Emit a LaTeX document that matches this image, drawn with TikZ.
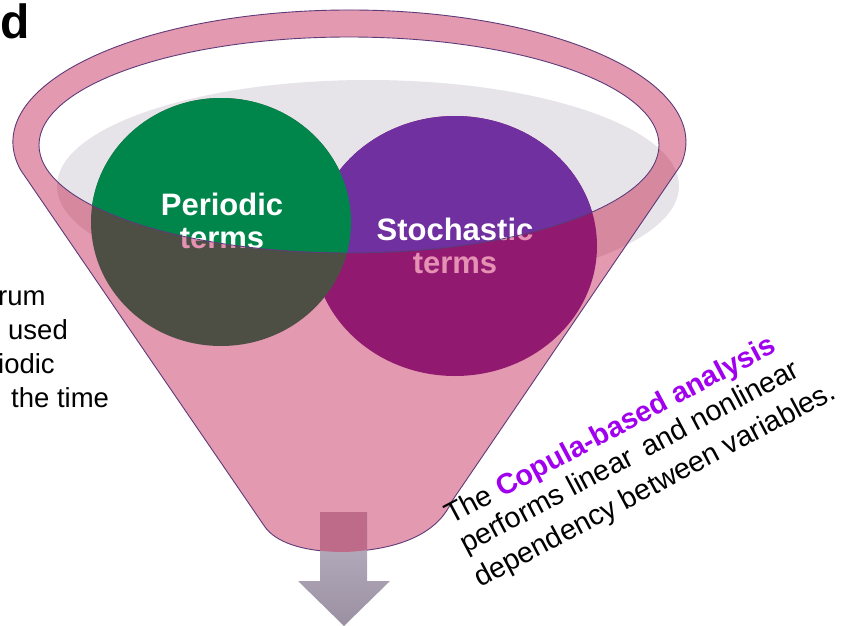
\documentclass[tikz,border=0pt]{standalone}
\usepackage{fontspec}
\setmainfont{Liberation Sans}
\definecolor{funpink}{HTML}{E399B0}
\definecolor{fundark}{HTML}{D6889F}
\definecolor{funline}{HTML}{5E3A78}
\definecolor{lightgray}{HTML}{E6E3E9}
\definecolor{pgreen}{HTML}{00864A}
\definecolor{pgreendark}{HTML}{4D4F45}
\definecolor{ppurple}{HTML}{7030A0}
\definecolor{ppurpledark}{HTML}{911A70}
\definecolor{txtpink}{HTML}{E591B4}
\definecolor{copula}{HTML}{A000EE}
\definecolor{arrowtop}{HTML}{BCB4C4}
\definecolor{arrowbot}{HTML}{9A90A2}
\definecolor{arrowover}{HTML}{BE6A89}
\tikzset{
  bigterm/.style={anchor=base, inner sep=0pt, font=\fontsize{31}{33}\selectfont\bfseries},
  sidetext/.style={anchor=base west, inner sep=0pt, font=\fontsize{27.5}{30}\selectfont},
  copline/.style={anchor=base west, inner sep=0pt, rotate=28, font=\fontsize{28.8}{32}\selectfont},
  outline/.style={draw=funline, line width=0.9pt}
}
\def\funnelpath{(20.7,170.1) arc[start angle=167.7, end angle=370, x radius=336.5, y radius=132] -- (452,501) .. controls (440,528) and (410,549) .. (345,552) .. controls (300,552) and (275,541) .. (265,527) -- cycle}
\def\innerell{(349,145) ellipse[x radius=310, y radius=108]}
\def\grayell{(368,186) ellipse[x radius=311, y radius=106]}
\def\greenell{(221,222) ellipse[x radius=130, y radius=124]}
\def\purpell{(455,246) ellipse[x radius=142, y radius=130]}
\def\arrowpath{(320,512) -- (367,512) -- (367,581) -- (390,581) -- (344,626) -- (298,581) -- (320,581) -- cycle}
\begin{document}
\begin{tikzpicture}[x=1pt,y=-1pt]
\useasboundingbox (0,0) rectangle (846,626);
% gray disc behind
\fill[lightgray] \grayell;
% funnel body
\fill[funpink] \funnelpath;
\begin{scope}
  \clip \funnelpath;
  \fill[fundark] \grayell;
\end{scope}
% opening
\fill[white] \innerell;
\begin{scope}
  \clip \innerell;
  \fill[lightgray] \grayell;
\end{scope}
% circles, front (covered) part
\begin{scope}
  \clip \funnelpath;
  \fill[ppurpledark] \purpell;
  \fill[pgreendark] \greenell;
\end{scope}
\node[bigterm, text=txtpink] (p1d) at (222,215) {Periodic};
\node[bigterm, text=txtpink] (p2d) at (222,248) {terms};
\node[bigterm, text=txtpink] (s1d) at (455,240) {Stochastic};
\node[bigterm, text=txtpink] (s2d) at (455,273) {terms};
% circles, visible part inside opening
\begin{scope}
  \clip \innerell;
  \fill[ppurple] \purpell;
  \fill[pgreen] \greenell;
  \node[bigterm, text=white] (p1) at (222,215) {Periodic};
  \node[bigterm, text=white] (p2) at (222,248) {terms};
  \node[bigterm, text=white] (s1) at (455,240) {Stochastic};
  \node[bigterm, text=white] (s2) at (455,273) {terms};
\end{scope}
% outlines
\draw[outline] \funnelpath;
\draw[outline] \innerell;
% arrow
\shade[top color=arrowtop, bottom color=arrowbot] \arrowpath;
\begin{scope}
  \clip \funnelpath;
  \fill[arrowover] \arrowpath;
\end{scope}
% panel label
\node[anchor=base west, inner sep=0pt, font=\fontsize{48}{50}\selectfont\bfseries] (lbl) at (0,39) {d};
% cropped text on the left
\node[sidetext] (l1) at (-2,305) {rum};
\node[sidetext] (l2) at (8,339) {used};
\node[sidetext] (l3) at (-2,373) {iodic};
\node[sidetext] (l4) at (11,407) {the time};
% copula text
\node[copline] (c1) at (451,525) {The {\bfseries\color{copula}Copula-based analysis}};
\node[copline] (c2) at (466,554) {performs linear\hspace{0.45em}and nonlinear};
\node[copline] (c3) at (480,588) {dependency between variables.};
\end{tikzpicture}
\end{document}
